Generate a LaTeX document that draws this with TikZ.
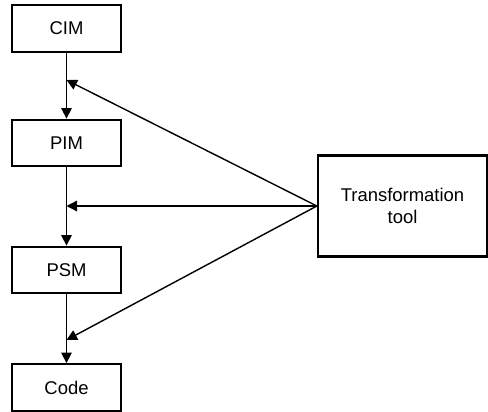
\documentclass[tikz,border=0pt]{standalone}
\usepackage{fontspec}
\setmainfont{Liberation Sans}
\usetikzlibrary{arrows.meta,positioning}

\begin{document}
\begin{tikzpicture}[
  every node/.style={anchor=center, font=\fontsize{10.5}{12.5}\selectfont},
  model/.style={draw, line width=1.3pt, minimum width=2.18cm, minimum height=0.93cm},
  tool/.style={draw, line width=1.3pt, minimum width=3.38cm, minimum height=2.02cm, align=center},
  flow/.style={line width=0.8pt, -{Triangle[length=2.1mm,width=2.1mm]}},
]
\useasboundingbox (0,0) rectangle (9.76,-8.22);
% model chain
\node[model] (cim)  at (1.33,-0.57) {CIM};
\node[model] (pim)  at (1.33,-2.86) {PIM};
\node[model] (psm)  at (1.33,-5.40) {PSM};
\node[model] (code) at (1.33,-7.75) {Code};
\node[tool]  (tt)   at (8.05,-4.12) {Transformation\\tool};
% merge points on the chain
\coordinate (m1) at (1.33,-1.60);
\coordinate (m2) at (1.33,-4.12);
\coordinate (m3) at (1.33,-6.80);
\draw[flow] (cim) -- (pim);
\draw[flow] (pim) -- (psm);
\draw[flow] (psm) -- (code);
\foreach \m in {m1,m2,m3}
  \draw[flow] (tt.west) -- (\m);
\end{tikzpicture}
\end{document}
